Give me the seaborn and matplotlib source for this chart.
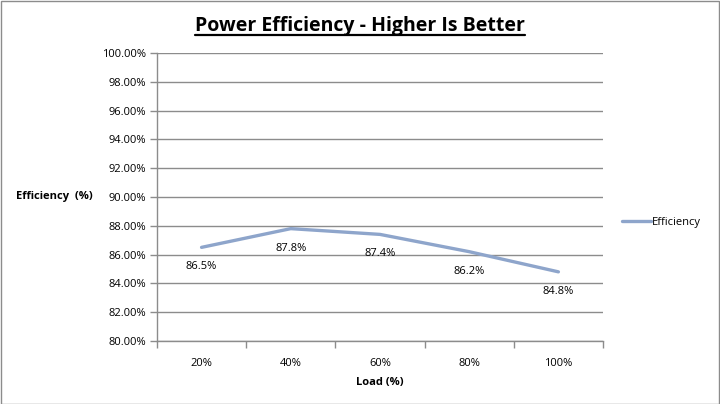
import pandas as pd
import numpy as np
import matplotlib
matplotlib.use("Agg")
import matplotlib.pyplot as plt
from matplotlib.lines import Line2D
import seaborn as sns

# Data
loads = ['20%', '40%', '60%', '80%', '100%']
efficiency = [86.5, 87.8, 87.4, 86.2, 84.8]

df = pd.DataFrame({'Load': loads, 'Efficiency': efficiency})

sns.set_theme(style="white")
plt.rcParams['font.family'] = ['Open Sans', 'DejaVu Sans']
plt.rcParams['text.color'] = 'black'
plt.rcParams['xtick.color'] = 'black'
plt.rcParams['ytick.color'] = 'black'
plt.rcParams['axes.labelcolor'] = 'black'

line_color = '#8EA5CB'
grid_color = '#8C8C8C'

fig = plt.figure(figsize=(7.2, 4.04), dpi=100)
ax = fig.add_axes([0.218, 0.156, 0.6195, 0.713])

sns.lineplot(x='Load', y='Efficiency', data=df, ax=ax, color=line_color,
             linewidth=2.4, sort=False, legend=False)

ax.set_ylim(80, 100)
ax.set_yticks(np.arange(80, 100.1, 2))
ax.set_yticklabels([f'{v:.2f}%' for v in np.arange(80, 100.1, 2)], fontsize=8)
ax.set_xlim(-0.5, len(loads) - 0.5)
ax.set_xticks(range(len(loads)))
ax.set_xticklabels(loads, fontsize=8)
ax.set_xticks(np.arange(-0.5, len(loads)), minor=True)
ax.tick_params(axis='both', which='both', bottom=True, left=True)
ax.tick_params(axis='x', which='major', length=0, pad=12)
ax.tick_params(axis='x', which='minor', length=5, color=grid_color, width=1)
ax.tick_params(axis='y', which='major', length=5, color=grid_color, width=1, pad=3,
               labelcolor='black')
ax.tick_params(axis='x', labelcolor='black')
ax.grid(axis='y', color=grid_color, linewidth=1)
ax.set_axisbelow(True)

for side in ['top', 'right']:
    ax.spines[side].set_visible(False)
for side in ['left', 'bottom']:
    ax.spines[side].set_color(grid_color)
    ax.spines[side].set_linewidth(1)

ax.set_xlabel('Load (%)', fontsize=8, fontweight='bold', labelpad=6)
ax.set_ylabel('Efficiency  (%)', fontsize=8, fontweight='bold', rotation=0,
              ha='right', va='center')
ax.yaxis.set_label_coords(-0.145, 0.5)

# data labels below each point
for i, v in enumerate(efficiency):
    ax.annotate(f'{v:.1f}%', (i, v), textcoords='offset points', xytext=(0, -14),
                ha='center', va='center', fontsize=8, color='black')

# legend on the right
handle = Line2D([], [], color=line_color, linewidth=2.4)
leg = ax.legend([handle], ['Efficiency'], loc='center left', bbox_to_anchor=(1.02, 0.413),
                frameon=False, fontsize=8, handlelength=2.6, handletextpad=0.1)
for t in leg.get_texts():
    t.set_color('black')

# underlined bold title
title = fig.text(0.5, 0.935, 'Power Efficiency - Higher Is Better', ha='center',
                 va='center', fontsize=14, fontweight='bold', color='black')
fig.canvas.draw()
bb = title.get_window_extent().transformed(fig.transFigure.inverted())
fig.add_artist(Line2D([bb.x0, bb.x1], [bb.y0 + 0.003, bb.y0 + 0.003],
                      transform=fig.transFigure, color='black', linewidth=1.6))

# outer border
fig.add_artist(plt.Rectangle((0.001, 0.001), 0.997, 0.996, transform=fig.transFigure,
                             fill=False, edgecolor='#8C8C8C', linewidth=1))

fig.savefig('out.png', dpi=100)
